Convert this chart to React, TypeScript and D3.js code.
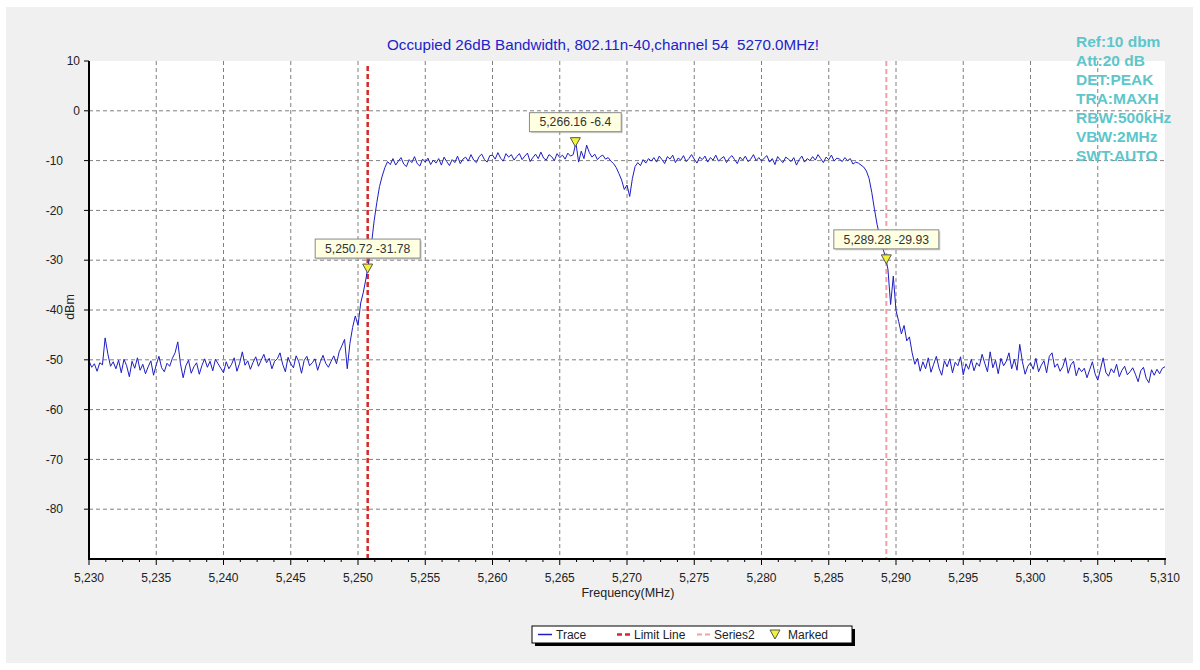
import React from "react";
import * as d3 from "d3";

const SWEEP_START = 5230;
const SWEEP_STEP = 0.2;
// Trace levels (dBm), one per sweep step from 5230 to 5310 MHz
const traceLevels: number[] = [
  -50.2, -51.5, -50.8, -52.3, -50.6, -51.0, -45.6, -48.8, -51.3, -50.4,
  -51.8, -50.1, -52.6, -49.9, -51.2, -53.4, -50.3, -51.7, -49.6, -52.1,
  -50.9, -52.8, -51.4, -50.2, -53.1, -51.0, -49.3, -51.6, -52.4, -50.7,
  -51.3, -49.7, -48.6, -46.4, -50.8, -53.6, -51.2, -50.1, -52.7, -51.4,
  -50.6, -52.9, -51.1, -49.8, -51.5, -50.3, -52.2, -49.9, -50.8, -51.7,
  -52.6, -50.4, -51.8, -50.9, -49.6, -52.3, -50.7, -48.4, -51.1, -50.2,
  -51.9, -50.5, -49.4, -51.3, -50.1, -48.9, -50.6, -49.7, -51.8, -50.3,
  -49.8, -48.6, -50.9, -52.4, -49.5, -50.8, -51.6, -49.2, -50.4, -52.7,
  -50.1, -49.3, -51.2, -50.6, -49.8, -52.1, -50.4, -49.1, -50.7, -51.5,
  -50.3, -49.2, -50.8, -48.4, -47.2, -45.9, -51.8, -46.7, -43.5, -41.2,
  -43.1, -38.6, -36.4, -33.6, -30.4, -26.8, -22.1, -18.4, -15.2, -13.1,
  -11.4, -10.2, -10.8, -9.6, -10.9, -10.1, -9.4, -10.7, -11.2, -9.8,
  -10.4, -9.2, -10.6, -11.1, -9.7, -10.3, -9.5, -10.8, -9.9, -10.5,
  -9.6, -10.9, -9.3, -10.2, -11.0, -9.8, -10.4, -9.1, -10.6, -9.7,
  -9.3, -10.1, -8.8, -9.9, -10.4, -9.2, -8.7, -9.8, -10.3, -9.0,
  -8.9, -9.7, -8.4, -9.5, -10.1, -8.6, -9.3, -8.8, -9.9, -9.2,
  -8.6, -9.8, -9.1, -8.5, -10.2, -9.4, -8.7, -9.6, -8.3, -9.5,
  -9.9, -8.8, -9.2, -10.0, -8.6, -9.4, -8.9, -9.7, -8.5, -9.1,
  -8.8, -6.4, -10.3, -8.1, -9.6, -6.9, -8.4, -9.3, -8.7, -9.8,
  -9.2, -8.9, -9.7, -9.4, -10.1, -10.6, -11.4, -12.6, -13.9, -15.8,
  -14.9, -17.2, -13.6, -11.2, -10.4, -11.0, -9.8, -10.5, -9.6, -10.1,
  -9.4, -10.3, -9.1, -9.8, -10.6, -9.2, -9.7, -8.9, -10.4, -9.5,
  -9.9, -9.0, -10.2, -9.6, -8.8, -9.7, -10.5, -9.3, -9.8, -9.1,
  -10.3, -9.4, -9.9, -8.9, -10.1, -9.6, -9.2, -10.4, -9.5, -9.0,
  -9.8, -10.6, -9.3, -9.9, -9.1, -10.2, -9.7, -8.8, -10.0, -9.4,
  -10.1, -9.5, -9.0, -10.3, -9.6, -10.8, -9.2, -9.9, -10.4, -9.3,
  -9.7, -10.2, -9.4, -10.9, -9.8, -9.1, -10.3, -9.6, -10.0, -9.2,
  -9.9, -8.8, -9.6, -10.4, -9.3, -9.8, -8.9, -10.1, -9.5, -9.7,
  -10.2, -9.4, -10.0, -9.6, -10.7, -10.3, -10.5, -10.9, -11.3, -12.1,
  -13.6, -16.4, -19.8, -22.9, -25.3, -27.4, -29.2, -31.8, -38.9, -33.2,
  -40.1, -42.3, -44.8, -43.1, -46.2, -45.4, -48.6, -50.9, -49.7, -52.3,
  -50.4, -51.8, -49.6, -52.5, -50.9, -49.3, -51.7, -53.1, -50.2, -51.4,
  -49.8, -52.6, -50.5, -51.2, -49.4, -53.0, -50.8, -51.9, -49.9, -52.2,
  -50.6, -51.3, -48.9, -50.7, -52.4, -48.4, -51.6, -50.1, -52.8, -49.7,
  -51.2, -50.3, -48.6, -51.8, -49.9, -52.1, -46.9, -50.4, -52.9, -51.3,
  -50.6, -51.9, -49.7, -52.4, -51.1, -50.2, -52.6, -49.3, -48.6, -51.5,
  -50.8, -52.3, -51.4, -49.6, -52.7, -51.0, -50.3, -53.2, -51.6, -52.4,
  -51.7, -53.6, -52.0, -50.4, -52.8, -54.1, -51.9, -49.6, -52.5, -53.3,
  -51.8, -52.6, -50.9, -53.4, -52.1, -51.3, -53.0, -52.4, -51.6, -52.9,
  -54.4, -52.2, -51.5, -53.7, -54.6, -52.0, -53.1, -51.9, -52.8, -51.7,
  -51.4,
];

const markerFreqs = [5250.72, 5266.16, 5289.28];
const markerLevels = [-31.78, -6.4, -29.93];
const limitLineFreq = 5250.72;
const series2Freq = 5289.28;

const xTicks = [5230, 5235, 5240, 5245, 5250, 5255, 5260, 5265, 5270, 5275, 5280, 5285, 5290, 5295, 5300, 5305, 5310];
const yTicks = [10, 0, -10, -20, -30, -40, -50, -60, -70, -80];

const titleText = "Occupied 26dB Bandwidth, 802.11n-40,channel 54  5270.0MHz!";
const infoLines = ["Ref:10 dbm", "Att:20 dB", "DET:PEAK", "TRA:MAXH", "RBW:500kHz", "VBW:2MHz", "SWT:AUTO"];
const legendItems = ["Trace", "Limit Line", "Series2", "Marked"];

const FONT = "'Liberation Sans', Arial, sans-serif";

export default function App() {
  const left = 89, right = 1165, top = 61, bottom = 559;
  const x = d3.scaleLinear().domain([5230, 5310]).range([left, right]);
  const y = d3.scaleLinear().domain([-90, 10]).range([bottom, top]);

  const pts: [number, number][] = traceLevels.map((v, i) => [SWEEP_START + i * SWEEP_STEP, v]);
  const line = d3.line<[number, number]>().x((d) => x(d[0])).y((d) => y(d[1]));

  const minorTicks = d3.range(5230, 5310.01, 1.25).filter((v) => Math.abs((v - 5230) % 5) > 0.01);

  const fmt = d3.format(",");
  const markerLabel = (f: number, v: number) => `${d3.format(",.2f")(f)} ${v}`;

  const tri = (cx: number, cy: number) => `M${cx - 5},${cy - 5}L${cx + 5},${cy - 5}L${cx},${cy + 4}Z`;

  const legendX = 532, legendY = 626, legendW = 320, legendH = 17;
  const ly = legendY + legendH / 2;

  return (
    <svg width={1200} height={670} style={{ position: "absolute", left: 0, top: 0 }} fontFamily={FONT}>
      <rect x={0} y={0} width={1200} height={670} fill="#ffffff" />
      <rect x={6} y={7} width={1187} height={656} fill="#f0f0f0" />
      <rect x={left} y={top} width={right - left} height={bottom - top} fill="#ffffff" />

      {/* grid */}
      {xTicks.slice(1, -1).map((t) => (
        <line key={"gx" + t} x1={x(t)} x2={x(t)} y1={top} y2={bottom} stroke="#808080" strokeDasharray="4,3" />
      ))}
      {yTicks.slice(1).map((t) => (
        <line key={"gy" + t} x1={left} x2={right} y1={y(t)} y2={y(t)} stroke="#808080" strokeDasharray="4,3" />
      ))}

      {/* limit lines */}
      <line x1={x(limitLineFreq)} x2={x(limitLineFreq)} y1={top + 5} y2={bottom} stroke="#d42828" strokeWidth={2.5} strokeDasharray="5,3" />
      <line x1={x(series2Freq)} x2={x(series2Freq)} y1={top} y2={bottom} stroke="#f5a0a0" strokeWidth={2} strokeDasharray="5,3" />

      {/* trace */}
      <path d={line(pts) || ""} fill="none" stroke="#1d1dc2" strokeWidth={1} />

      {/* axes */}
      <line x1={left} x2={left} y1={top} y2={bottom + 1} stroke="#000" strokeWidth={2} />
      <line x1={left - 1} x2={right + 1} y1={bottom} y2={bottom} stroke="#000" strokeWidth={2} />
      {yTicks.map((t) => (
        <g key={"yt" + t}>
          <line x1={left - 5} x2={left} y1={y(t)} y2={y(t)} stroke="#000" />
          <text x={t >= 0 ? left - 9 : 63} y={y(t)} dy="0.35em" textAnchor="end" fontSize={12} fill="#222">{t}</text>
        </g>
      ))}
      {xTicks.map((t) => (
        <g key={"xt" + t}>
          <line x1={x(t)} x2={x(t)} y1={bottom} y2={bottom + 6} stroke="#000" />
          <text x={x(t)} y={582} textAnchor="middle" fontSize={12} fill="#222">{fmt(t)}</text>
        </g>
      ))}
      {minorTicks.map((t) => (
        <line key={"mt" + t} x1={x(t)} x2={x(t)} y1={bottom} y2={bottom + 3} stroke="#000" />
      ))}

      <text x={0} y={0} transform="translate(74 307) rotate(-90)" textAnchor="middle" fontSize={12.5} fill="#222">dBm</text>
      <text x={628} y={597} textAnchor="middle" fontSize={12.5} fill="#222">Frequency(MHz)</text>

      {/* title */}
      <text x={603} y={50} textAnchor="middle" fontSize={15.2} fill="#2222cc" style={{ whiteSpace: "pre" }}>{titleText}</text>

      {/* markers */}
      {markerFreqs.map((f, i) => {
        const cx = x(f), cy = y(markerLevels[i]);
        const label = markerLabel(f, markerLevels[i]);
        const w = label.length * 6.6 + 6;
        return (
          <g key={"mk" + i}>
            <rect x={cx - w / 2 + 1.5} y={cy - 28.5} width={w} height={19} fill="#a0a0a0" opacity={0.5} />
            <rect x={cx - w / 2} y={cy - 30} width={w} height={19} fill="#ffffe1" stroke="#8a8a8a" />
            <text x={cx} y={cy - 20.5} dy="0.35em" textAnchor="middle" fontSize={12.2} fill="#333">{label}</text>
            <path d={tri(cx, cy)} fill="#f2f23a" stroke="#555" strokeWidth={1} />
          </g>
        );
      })}

      {/* info text */}
      {infoLines.map((s, i) => (
        <text key={"in" + i} x={1076} y={47 + i * 19} fontSize={15.5} fontWeight="bold" fill="#5ec6cb">{s}</text>
      ))}

      {/* legend */}
      <rect x={legendX + 3} y={legendY + 3} width={legendW} height={legendH} fill="#000" />
      <rect x={legendX} y={legendY} width={legendW} height={legendH} fill="#fff" stroke="#000" />
      <line x1={538} x2={552} y1={ly} y2={ly} stroke="#1d1dc2" strokeWidth={1.5} />
      <text x={556} y={ly} dy="0.35em" fontSize={12} fill="#222">{legendItems[0]}</text>
      <line x1={617} x2={631} y1={ly} y2={ly} stroke="#d42828" strokeWidth={2.5} strokeDasharray="5,3" />
      <text x={634} y={ly} dy="0.35em" fontSize={12} fill="#222">{legendItems[1]}</text>
      <line x1={697} x2={711} y1={ly} y2={ly} stroke="#f5a0a0" strokeWidth={2} strokeDasharray="5,3" />
      <text x={714} y={ly} dy="0.35em" fontSize={12} fill="#222">{legendItems[2]}</text>
      <path d={tri(775, ly + 0.5)} fill="#f2f23a" stroke="#555" strokeWidth={1} />
      <text x={788} y={ly} dy="0.35em" fontSize={12} fill="#222">{legendItems[3]}</text>
    </svg>
  );
}
